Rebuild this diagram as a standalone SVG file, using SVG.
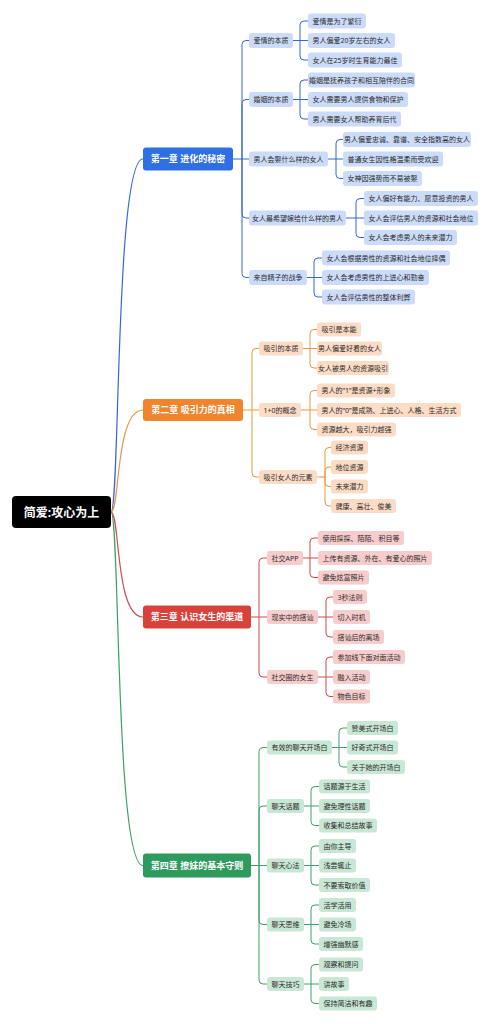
<svg xmlns="http://www.w3.org/2000/svg" width="489" height="1024" viewBox="0 0 489 1024">
<style>
text{font-family:"Noto Sans","Noto Sans CJK SC",sans-serif;text-anchor:middle}
.t{font-size:7px;fill:#2a2a2a}
.ct{font-size:9px;font-weight:bold;fill:#fff}
.rt{font-size:12px;font-weight:bold;fill:#fff}
.c{fill:none;stroke-width:1}
.cv{fill:none;stroke-width:1.2}
.b1{fill:#CCDCF8}.s1{stroke:#3467D6}
.b2{fill:#FCDCC5}.s2{stroke:#E8953F}
.b3{fill:#F6CCCC}.s3{stroke:#CE4A4A}
.b4{fill:#C9E7D5}.s4{stroke:#3F9E6B}
</style>
<rect width="489" height="1024" fill="#fff"/>
<g id="connectors">
<path class="cv s1" d="M111 512 C120 512 115 159 143 159"/>
<path class="cv s2" d="M111 512 C120 512 115 410 143 410"/>
<path class="cv s3" d="M111 512 C120 512 115 617 143 617"/>
<path class="cv s4" d="M111 512 C120 512 115 865.5 143 865.5"/>
<path class="c s1" d="M233 159 H242 M242 159 V44.5 Q242 40.5 246 40.5 H249 M242 159 V103.5 Q242 99.5 246 99.5 H249 M242 159 H249 M242 159 V214 Q242 218 246 218 H249 M242 159 V273.5 Q242 277.5 246 277.5 H249
M293 40.5 H300 M300 40.5 V25 Q300 21 304 21 H308 M300 40.5 H308 M300 40.5 V56 Q300 60 304 60 H308
M293 99.5 H300 M300 99.5 V84 Q300 80 304 80 H308 M300 99.5 H308 M300 99.5 V115 Q300 119 304 119 H308
M328 159 H336 M336 159 V143.5 Q336 139.5 340 139.5 H343 M336 159 H343 M336 159 V174.5 Q336 178.5 340 178.5 H343
M346 218 H356 M356 218 V202.5 Q356 198.5 360 198.5 H364 M356 218 H364 M356 218 V233.5 Q356 237.5 360 237.5 H364
M307 277.5 H314 M314 277.5 V262 Q314 258 318 258 H322 M314 277.5 H322 M314 277.5 V293 Q314 297 318 297 H322"/>
<path class="c s2" d="M243 410 H252 M252 410 V352.5 Q252 348.5 256 348.5 H259 M252 410 H259 M252 410 V473 Q252 477 256 477 H259
M303 348.5 H310 M310 348.5 V333.5 Q310 329.5 314 329.5 H317 M310 348.5 H317 M310 348.5 V364 Q310 368 314 368 H317
M301 410 H310 M310 410 V394.5 Q310 390.5 314 390.5 H317 M310 410 H317 M310 410 V425.5 Q310 429.5 314 429.5 H317
M317 477 H325 M325 477 V451.5 Q325 447.5 329 447.5 H331 M325 477 V471 Q325 467 329 467 H331 M325 477 V482.5 Q325 486.5 329 486.5 H331 M325 477 V502 Q325 506 329 506 H331"/>
<path class="c s3" d="M251 617 H259 M259 617 V562 Q259 558 263 558 H267 M259 617 H267 M259 617 V673 Q259 677 263 677 H267
M303 558 H310 M310 558 V542 Q310 538 314 538 H318 M310 558 H318 M310 558 V573.5 Q310 577.5 314 577.5 H318
M318 617 H326 M326 617 V601 Q326 597 330 597 H333 M326 617 H333 M326 617 V633 Q326 637 330 637 H333
M318 677 H326 M326 677 V661 Q326 657 330 657 H333 M326 677 H333 M326 677 V692.5 Q326 696.5 330 696.5 H333"/>
<path class="c s4" d="M251 865.5 H259 M259 865.5 V751.5 Q259 747.5 263 747.5 H267 M259 865.5 V810 Q259 806 263 806 H267 M259 865.5 H267 M259 865.5 V920.5 Q259 924.5 263 924.5 H267 M259 865.5 V980 Q259 984 263 984 H267
M332 747.5 H339 M339 747.5 V732 Q339 728 343 728 H347 M339 747.5 H347 M339 747.5 V763 Q339 767 343 767 H347
M304 806 H311 M311 806 V790.5 Q311 786.5 315 786.5 H319 M311 806 H319 M311 806 V821.5 Q311 825.5 315 825.5 H319
M304 865.5 H311 M311 865.5 V850 Q311 846 315 846 H319 M311 865.5 H319 M311 865.5 V881 Q311 885 315 885 H319
M304 924.5 H311 M311 924.5 V909 Q311 905 315 905 H319 M311 924.5 H319 M311 924.5 V940 Q311 944 315 944 H319
M304 984 H311 M311 984 V968.5 Q311 964.5 315 964.5 H319 M311 984 H319 M311 984 V999.5 Q311 1003.5 315 1003.5 H319"/>
</g>
<g id="root"><rect x="12" y="496" width="99" height="32" rx="4" fill="#000"/><text class="rt" x="61.5" y="516.5">简爱:攻心为上</text></g>
<g id="ch1"><rect x="143" y="147.5" width="90" height="23" rx="3" fill="#2F6FE4"/><text class="ct" x="188" y="162.2">第一章 进化的秘密</text></g>
<g id="ch2"><rect x="143" y="399" width="100" height="22" rx="3" fill="#F0852E"/><text class="ct" x="193" y="413.2">第二章 吸引力的真相</text></g>
<g id="ch3"><rect x="143" y="605.5" width="108" height="23" rx="3" fill="#D9413B"/><text class="ct" x="197" y="620.2">第三章 认识女生的渠道</text></g>
<g id="ch4"><rect x="143" y="853.5" width="108" height="24" rx="3" fill="#2F9A5E"/><text class="ct" x="197" y="868.7">第四章 撩妹的基本守则</text></g>

<g id="n1a"><rect class="b1" x="249" y="33" width="44" height="15" rx="3"/><text class="t" x="271" y="43">爱情的本质</text></g>
<g id="n1a1"><rect class="b1" x="308" y="13.5" width="58" height="15" rx="3"/><text class="t" x="337" y="23.5">爱情是为了繁衍</text></g>
<g id="n1a2"><rect class="b1" x="308" y="33" width="87" height="15" rx="3"/><text class="t" x="351.5" y="43">男人偏爱20岁左右的女人</text></g>
<g id="n1a3"><rect class="b1" x="308" y="52.5" width="94" height="15" rx="3"/><text class="t" x="355" y="62.5">女人在25岁时生育能力最佳</text></g>
<g id="n1b"><rect class="b1" x="249" y="92" width="44" height="15" rx="3"/><text class="t" x="271" y="102">婚姻的本质</text></g>
<g id="n1b1"><rect class="b1" x="308" y="72.5" width="107" height="15" rx="3"/><text class="t" x="361.5" y="82.5">婚姻是抚养孩子和相互陪伴的合同</text></g>
<g id="n1b2"><rect class="b1" x="308" y="92" width="100" height="15" rx="3"/><text class="t" x="358" y="102">女人需要男人提供食物和保护</text></g>
<g id="n1b3"><rect class="b1" x="308" y="111.5" width="93" height="15" rx="3"/><text class="t" x="354.5" y="121.5">男人需要女人帮助养育后代</text></g>
<g id="n1c"><rect class="b1" x="249" y="151.5" width="79" height="15" rx="3"/><text class="t" x="288.5" y="161.5">男人会娶什么样的女人</text></g>
<g id="n1c1"><rect class="b1" x="343" y="132" width="128" height="15" rx="3"/><text class="t" x="407" y="142">男人偏爱忠诚、靠谱、安全指数高的女人</text></g>
<g id="n1c2"><rect class="b1" x="343" y="151.5" width="100" height="15" rx="3"/><text class="t" x="393" y="161.5">普通女生因性格温柔而受欢迎</text></g>
<g id="n1c3"><rect class="b1" x="343" y="171" width="79" height="15" rx="3"/><text class="t" x="382.5" y="181">女神因强势而不易被娶</text></g>
<g id="n1d"><rect class="b1" x="249" y="210.5" width="97" height="15" rx="3"/><text class="t" x="297.5" y="220.5">女人最希望嫁给什么样的男人</text></g>
<g id="n1d1"><rect class="b1" x="364" y="191" width="114" height="15" rx="3"/><text class="t" x="421" y="201">女人偏好有能力、愿意投资的男人</text></g>
<g id="n1d2"><rect class="b1" x="364" y="210.5" width="114" height="15" rx="3"/><text class="t" x="421" y="220.5">女人会评估男人的资源和社会地位</text></g>
<g id="n1d3"><rect class="b1" x="364" y="230" width="93" height="15" rx="3"/><text class="t" x="410.5" y="240">女人会考虑男人的未来潜力</text></g>
<g id="n1e"><rect class="b1" x="249" y="270" width="58" height="15" rx="3"/><text class="t" x="278" y="280">来自精子的战争</text></g>
<g id="n1e1"><rect class="b1" x="322" y="250.5" width="128" height="15" rx="3"/><text class="t" x="386" y="260.5">女人会根据男性的资源和社会地位择偶</text></g>
<g id="n1e2"><rect class="b1" x="322" y="270" width="107" height="15" rx="3"/><text class="t" x="375.5" y="280">女人会考虑男性的上进心和勤奋</text></g>
<g id="n1e3"><rect class="b1" x="322" y="289.5" width="93" height="15" rx="3"/><text class="t" x="368.5" y="299.5">女人会评估男性的整体利弊</text></g>

<g id="n2a"><rect class="b2" x="259" y="341.5" width="44" height="14" rx="3"/><text class="t" x="281" y="351">吸引的本质</text></g>
<g id="n2a1"><rect class="b2" x="317" y="322.5" width="44" height="14" rx="3"/><text class="t" x="339" y="332">吸引是本能</text></g>
<g id="n2a2"><rect class="b2" x="317" y="341.5" width="65" height="14" rx="3"/><text class="t" x="349.5" y="351">男人偏爱好看的女人</text></g>
<g id="n2a3"><rect class="b2" x="317" y="361" width="72" height="14" rx="3"/><text class="t" x="353" y="370.5">女人被男人的资源吸引</text></g>
<g id="n2b"><rect class="b2" x="259" y="403" width="42" height="14" rx="3"/><text class="t" x="280" y="412.5">1+0的概念</text></g>
<g id="n2b1"><rect class="b2" x="317" y="383.5" width="78" height="14" rx="3"/><text class="t" x="356" y="393">男人的“1”是资源+形象</text></g>
<g id="n2b2"><rect class="b2" x="317" y="403" width="144" height="14" rx="3"/><text class="t" x="389" y="412.5">男人的“0”是成熟、上进心、人格、生活方式</text></g>
<g id="n2b3"><rect class="b2" x="317" y="422.5" width="79" height="14" rx="3"/><text class="t" x="356.5" y="432">资源越大，吸引力越强</text></g>
<g id="n2c"><rect class="b2" x="259" y="470" width="58" height="14" rx="3"/><text class="t" x="288" y="479.5">吸引女人的元素</text></g>
<g id="n2c1"><rect class="b2" x="331" y="440.5" width="37" height="14" rx="3"/><text class="t" x="349.5" y="450">经济资源</text></g>
<g id="n2c2"><rect class="b2" x="331" y="460" width="37" height="14" rx="3"/><text class="t" x="349.5" y="469.5">地位资源</text></g>
<g id="n2c3"><rect class="b2" x="331" y="479.5" width="37" height="14" rx="3"/><text class="t" x="349.5" y="489">未来潜力</text></g>
<g id="n2c4"><rect class="b2" x="331" y="499" width="65" height="14" rx="3"/><text class="t" x="363.5" y="508.5">健康、高壮、俊美</text></g>

<g id="n3a"><rect class="b3" x="267" y="551" width="36" height="14" rx="3"/><text class="t" x="285" y="560.5">社交APP</text></g>
<g id="n3a1"><rect class="b3" x="318" y="531" width="86" height="14" rx="3"/><text class="t" x="361" y="540.5">使用探探、陌陌、积目等</text></g>
<g id="n3a2"><rect class="b3" x="318" y="551" width="114" height="14" rx="3"/><text class="t" x="375" y="560.5">上传有资源、外在、有爱心的照片</text></g>
<g id="n3a3"><rect class="b3" x="318" y="570.5" width="51" height="14" rx="3"/><text class="t" x="343.5" y="580">避免炫富照片</text></g>
<g id="n3b"><rect class="b3" x="267" y="610" width="51" height="14" rx="3"/><text class="t" x="292.5" y="619.5">现实中的搭讪</text></g>
<g id="n3b1"><rect class="b3" x="333" y="590" width="34" height="14" rx="3"/><text class="t" x="350" y="599.5">3秒法则</text></g>
<g id="n3b2"><rect class="b3" x="333" y="610" width="37" height="14" rx="3"/><text class="t" x="351.5" y="619.5">切入时机</text></g>
<g id="n3b3"><rect class="b3" x="333" y="630" width="51" height="14" rx="3"/><text class="t" x="358.5" y="639.5">搭讪后的离场</text></g>
<g id="n3c"><rect class="b3" x="267" y="670" width="51" height="14" rx="3"/><text class="t" x="292.5" y="679.5">社交圈的女生</text></g>
<g id="n3c1"><rect class="b3" x="333" y="650" width="72" height="14" rx="3"/><text class="t" x="369" y="659.5">参加线下面对面活动</text></g>
<g id="n3c2"><rect class="b3" x="333" y="670" width="37" height="14" rx="3"/><text class="t" x="351.5" y="679.5">融入活动</text></g>
<g id="n3c3"><rect class="b3" x="333" y="689.5" width="37" height="14" rx="3"/><text class="t" x="351.5" y="699">物色目标</text></g>

<g id="n4a"><rect class="b4" x="267" y="740.5" width="65" height="14" rx="3"/><text class="t" x="299.5" y="750">有效的聊天开场白</text></g>
<g id="n4a1"><rect class="b4" x="347" y="721" width="51" height="14" rx="3"/><text class="t" x="372.5" y="730.5">赞美式开场白</text></g>
<g id="n4a2"><rect class="b4" x="347" y="740.5" width="51" height="14" rx="3"/><text class="t" x="372.5" y="750">好奇式开场白</text></g>
<g id="n4a3"><rect class="b4" x="347" y="760" width="58" height="14" rx="3"/><text class="t" x="376" y="769.5">关于她的开场白</text></g>
<g id="n4b"><rect class="b4" x="267" y="799" width="37" height="14" rx="3"/><text class="t" x="285.5" y="808.5">聊天话题</text></g>
<g id="n4b1"><rect class="b4" x="319" y="779.5" width="51" height="14" rx="3"/><text class="t" x="344.5" y="789">话题源于生活</text></g>
<g id="n4b2"><rect class="b4" x="319" y="799" width="51" height="14" rx="3"/><text class="t" x="344.5" y="808.5">避免理性话题</text></g>
<g id="n4b3"><rect class="b4" x="319" y="818.5" width="58" height="14" rx="3"/><text class="t" x="348" y="828">收集和总结故事</text></g>
<g id="n4c"><rect class="b4" x="267" y="858.5" width="37" height="14" rx="3"/><text class="t" x="285.5" y="868">聊天心法</text></g>
<g id="n4c1"><rect class="b4" x="319" y="839" width="37" height="14" rx="3"/><text class="t" x="337.5" y="848.5">由你主导</text></g>
<g id="n4c2"><rect class="b4" x="319" y="858.5" width="37" height="14" rx="3"/><text class="t" x="337.5" y="868">浅尝辄止</text></g>
<g id="n4c3"><rect class="b4" x="319" y="878" width="51" height="14" rx="3"/><text class="t" x="344.5" y="887.5">不要索取价值</text></g>
<g id="n4d"><rect class="b4" x="267" y="917.5" width="37" height="14" rx="3"/><text class="t" x="285.5" y="927">聊天思维</text></g>
<g id="n4d1"><rect class="b4" x="319" y="898" width="37" height="14" rx="3"/><text class="t" x="337.5" y="907.5">活学活用</text></g>
<g id="n4d2"><rect class="b4" x="319" y="917.5" width="37" height="14" rx="3"/><text class="t" x="337.5" y="927">避免冷场</text></g>
<g id="n4d3"><rect class="b4" x="319" y="937" width="44" height="14" rx="3"/><text class="t" x="341" y="946.5">增强幽默感</text></g>
<g id="n4e"><rect class="b4" x="267" y="977" width="37" height="14" rx="3"/><text class="t" x="285.5" y="986.5">聊天技巧</text></g>
<g id="n4e1"><rect class="b4" x="319" y="957.5" width="44" height="14" rx="3"/><text class="t" x="341" y="967">观察和提问</text></g>
<g id="n4e2"><rect class="b4" x="319" y="977" width="30" height="14" rx="3"/><text class="t" x="334" y="986.5">讲故事</text></g>
<g id="n4e3"><rect class="b4" x="319" y="996.5" width="58" height="14" rx="3"/><text class="t" x="348" y="1006">保持简洁和有趣</text></g>
</svg>
